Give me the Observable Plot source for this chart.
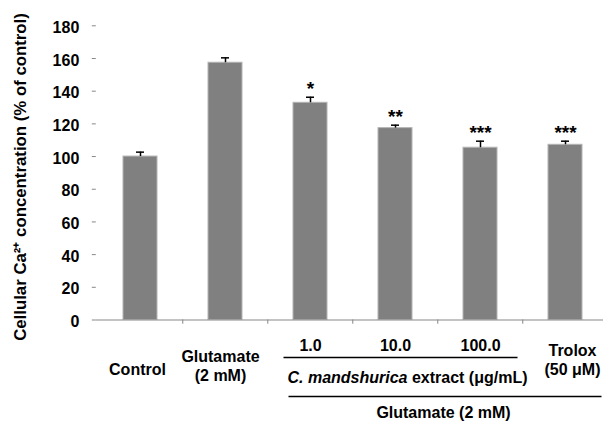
<!DOCTYPE html>
<html>
<head>
<meta charset="utf-8">
<script src="https://cdn.jsdelivr.net/npm/d3@7"></script>
<script src="https://cdn.jsdelivr.net/npm/@observablehq/plot@0.6"></script>
<style>
  html, body { margin: 0; padding: 0; background: #fff; }
  #chart svg { display: block; font-family: "Liberation Sans", Arial, sans-serif; font-weight: bold; }
</style>
</head>
<body>
<div id="chart"></div>
<script>
const categories = ["Control", "Glutamate", "1.0", "10.0", "100.0", "Trolox"];
const values = [100, 157.4, 132.9, 117.4, 105.4, 107.2];
const errors = [2.7, 3.0, 3.4, 1.8, 4.0, 2.2];
const stars = ["", "", "*", "**", "***", "***"];
const yTicks = [0, 20, 40, 60, 80, 100, 120, 140, 160, 180];
const yLabel = "Cellular Ca²⁺ concentration (% of control)";
const doseLabels = ["1.0", "10.0", "100.0"];
const extractItalic = "C. mandshurica";
const extractRest = " extract (μg/mL)";
const groupLabel = "Glutamate (2 mM)";

const data = categories.map((c, i) => ({cat: c, value: values[i], err: errors[i], star: stars[i]}));
const bw = 85.45;
const FS = 16;

const chart = Plot.plot({
  width: 603,
  height: 421,
  marginLeft: 95.8,
  marginRight: 0,
  marginTop: 25.3,
  marginBottom: 101.5,
  style: {fontFamily: "'Liberation Sans', Arial, sans-serif", fontWeight: "bold", fontSize: "16px", color: "#000", background: "#fff"},
  x: {type: "band", domain: categories, range: [95.8, 95.8 + 6 * bw], paddingInner: 0.6, paddingOuter: 0.3, axis: null},
  y: {domain: [0, 180]},
  marks: [
    Plot.barY(data, {x: "cat", y: "value", fill: "#808080", stroke: "#b4b4b4", strokeWidth: 1}),
    Plot.ruleX(data, {x: "cat", y1: "value", y2: d => d.value + d.err, stroke: "#000", strokeWidth: 1.5}),
    Plot.tickY(data, {x: "cat", y: d => d.value + d.err, stroke: "#000", strokeWidth: 1.5, insetLeft: 13, insetRight: 13}),
    Plot.text(data.filter(d => d.star), {x: "cat", y: d => d.value + d.err, text: "star", dy: -8, fontSize: 19, fontWeight: "bold", fill: "#000"}),
    Plot.axisY({ticks: yTicks, tickSize: 4, stroke: "#888", text: null, label: null, line: true}),
    Plot.axisY({ticks: yTicks, tickSize: 0, tickPadding: 17, fill: "#000", fontWeight: "bold", fontSize: 16, dy: 2, label: null}),
    Plot.ruleY([0], {stroke: "#888", strokeWidth: 1.2}),
    Plot.ruleX(categories.slice(1), {x: d => d, dx: -bw / 2, y1: 0, y2: -2.6, stroke: "#888"}),
    Plot.ruleX([categories[5]], {x: d => d, dx: bw / 2 - 0.5, y1: 0, y2: -2.6, stroke: "#888"}),
    Plot.text(doseLabels, {x: d => d, y: 0, dy: 26, text: d => d, fontSize: FS, fill: "#000"}),
    Plot.text([categories[0]], {x: d => d, y: 0, dy: 50, dx: -3, text: d => d, fontSize: FS, fill: "#000"}),
    Plot.text([categories[1]], {x: d => d, y: 0, dy: 45, dx: -5, text: d => "Glutamate\n(2 mM)", lineHeight: 1.2, fontSize: FS, fill: "#000"}),
    Plot.text([categories[5]], {x: d => d, y: 0, dy: 39, dx: 7, text: d => "Trolox\n(50 μM)", lineHeight: 1.2, fontSize: FS, fill: "#000"}),
    Plot.text([categories[3]], {x: d => d, y: 0, dy: 93, dx: 48, text: d => groupLabel, fontSize: FS, fill: "#000"}),
    Plot.text([categories[3]], {x: d => d, y: 0, dy: 58, dx: 12, text: d => extractItalic + extractRest, fontSize: FS, fill: "#000"})
  ]
});

const xs = chart.scale("x");
const ys = chart.scale("y");
document.getElementById("chart").append(chart);

const svg = d3.select(chart);
const y0 = ys.apply(0);
const band = xs.bandwidth;
const step = xs.step;
function bandStart(c) { return xs.apply(c) - (step - band) / 2; }
svg.append("line").attr("x1", bandStart("1.0") + 16).attr("x2", bandStart("100.0") + step - 5)
  .attr("y1", y0 + 38).attr("y2", y0 + 38).attr("stroke", "#000").attr("stroke-width", 1.3);
svg.append("line").attr("x1", bandStart("1.0") + 21).attr("x2", bandStart("Trolox") + step - 6)
  .attr("y1", y0 + 77).attr("y2", y0 + 77).attr("stroke", "#000").attr("stroke-width", 1.3);

svg.selectAll("text").filter(function () { return this.textContent === extractItalic + extractRest; }).each(function () {
  const t = d3.select(this);
  const tspan = t.select("tspan");
  const target = tspan.empty() ? t : tspan;
  target.text(null);
  target.append("tspan").attr("font-style", "italic").text(extractItalic);
  target.append("tspan").text(extractRest);
});

svg.append("text")
  .attr("transform", `translate(25.5,177) rotate(-90)`)
  .attr("text-anchor", "middle")
  .attr("font-size", 16.8)
  .attr("font-weight", "bold")
  .attr("fill", "#000")
  .text(yLabel);
</script>
</body>
</html>
